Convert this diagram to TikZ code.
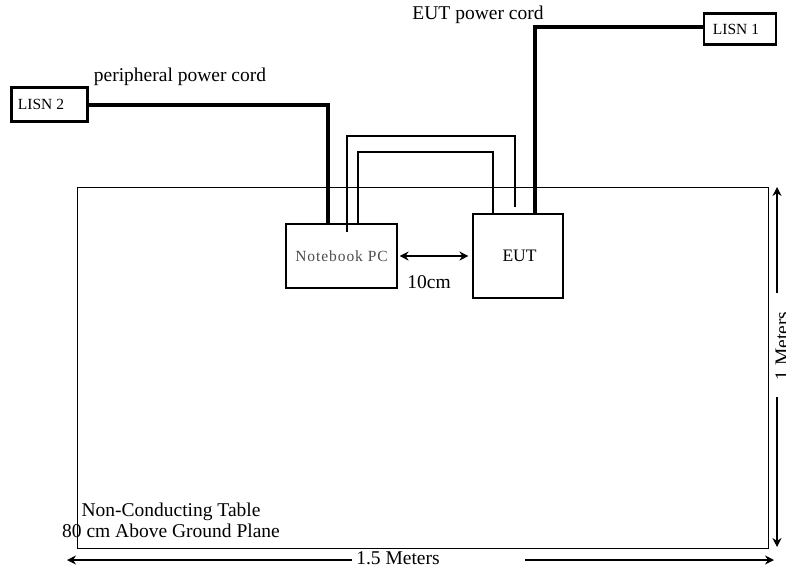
\documentclass[tikz,border=0pt]{standalone}
\usepackage{fontspec}
\setmainfont{Liberation Serif}
\usetikzlibrary{arrows.meta}

\begin{document}
\begin{tikzpicture}[x=1pt,y=-1pt,>={Stealth[length=9pt,width=9pt]},font=\fontsize{19.5}{21}\selectfont,
    lisn box/.style={draw,line width=2.6pt,inner sep=0pt,minimum width=76pt,minimum height=34pt,font=\fontsize{15.5}{17}\selectfont},
    dev box/.style={draw,line width=1.1pt,inner sep=0pt},
    power cord/.style={line width=4pt},
    signal cable/.style={line width=1.4pt},
    dim arrow/.style={->,line width=1.1pt}]
    \useasboundingbox (0,0) rectangle (786,571);

    % table
    \node[draw,line width=1pt,inner sep=0pt,anchor=north west,minimum width=691pt,minimum height=361pt] (table) at (77,187) {};
    \node[align=center] (tabletext) at (171,520) {Non-Conducting Table\\80 cm Above Ground Plane};

    % LISNs
    \node[lisn box] (lisn2) at (49.5,104.5) {\hspace*{-17pt}LISN 2};
    \node[lisn box,minimum width=72pt,minimum height=31pt] (lisn1) at (740,29) {\hspace*{-8pt}LISN 1};

    % devices
    \node[dev box,minimum width=111pt,minimum height=64pt] (pc) at (341.5,256) {\color{black!70}\addfontfeature{LetterSpace=6}\fontsize{15.5}{17}\selectfont Notebook PC};
    \node[dev box,minimum width=90pt,minimum height=84pt,font=\fontsize{17.5}{19}\selectfont] (eut) at (518,256) {\hspace*{3pt}EUT};

    % labels
    \node (pcord) at (180,77) {peripheral power cord};
    \node (ecord) at (478,15) {EUT power cord};
    \node (dist) at (429,282) {10cm};

    % power cords
    \draw[power cord] (lisn2.east) -| ([xshift=-13.5pt]pc.north);
    \draw[power cord] ([xshift=17pt]eut.north) |- ([yshift=2pt]lisn1.west);

    % signal cables
    \coordinate (c1a) at (347,232);
    \coordinate (c1b) at (515,207);
    \draw[signal cable] (c1a) |- (431,136) -| (c1b);
    \draw[signal cable] ([xshift=16.5pt]pc.north) |- (425,152) -| ([xshift=-25pt]eut.north);

    % distance between devices
    \draw[<->,line width=1.4pt] ([xshift=2pt]pc.east) -- ([xshift=-4pt]eut.west |- pc.east);

    % dimensions
    \coordinate (wl) at (67,560);
    \coordinate (wr) at (774,560);
    \node (wlabel) at (398,558) {1.5 Meters};
    \draw[dim arrow] (352,560) -- (wl);
    \draw[dim arrow] (525,560) -- (wr);

    \coordinate (ht) at (777,187);
    \coordinate (hb) at (777,547);
    \node[rotate=90] (hlabel) at (782,346) {1 Meters};
    \draw[dim arrow] (777,293) -- (ht);
    \draw[dim arrow] (777,397) -- (hb);
\end{tikzpicture}
\end{document}
